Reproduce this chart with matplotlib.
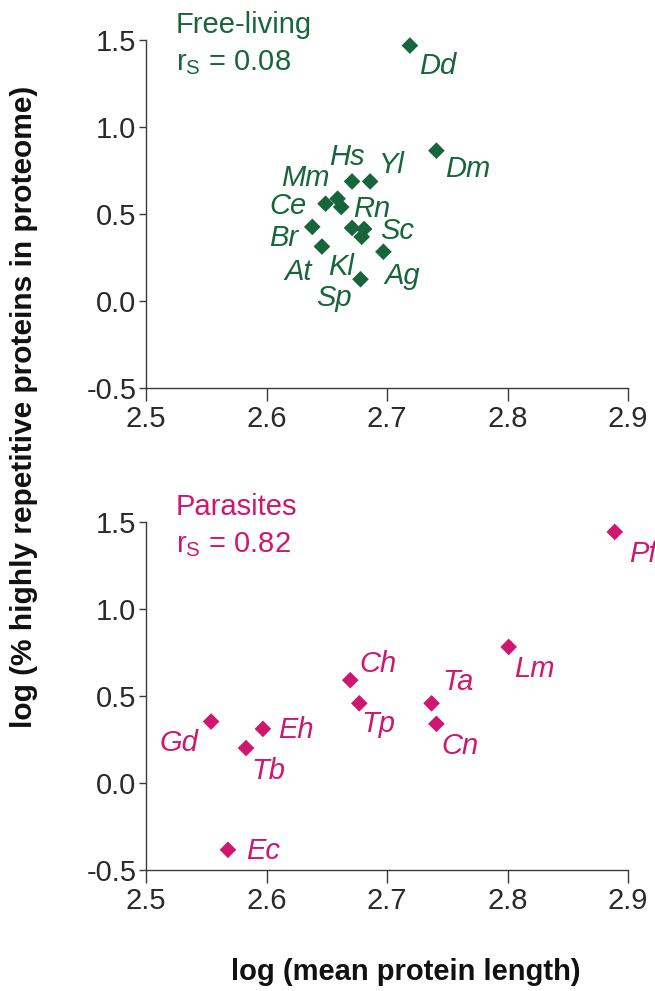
import matplotlib
matplotlib.use("Agg")
import matplotlib.pyplot as plt

plt.rcParams['font.family'] = ['Liberation Sans', 'DejaVu Sans']
plt.rcParams['mathtext.fontset'] = 'custom'
plt.rcParams['mathtext.rm'] = 'Liberation Sans'
plt.rcParams['mathtext.it'] = 'Liberation Sans:italic'

# ---------------- data ----------------
free_names = ["Dd", "Dm", "Hs", "Yl", "Mm", "Ce", "Rn", "Br", "At", "Kl", "Sc", "", "Ag", "Sp"]
free_x = [2.719, 2.741, 2.671, 2.686, 2.659, 2.649, 2.662, 2.638, 2.646, 2.671, 2.681, 2.679, 2.697, 2.678]
free_y = [1.468, 0.864, 0.687, 0.687, 0.588, 0.559, 0.540, 0.426, 0.313, 0.420, 0.414, 0.369, 0.283, 0.125]

par_names = ["Pf", "Lm", "Ch", "Tp", "Ta", "Cn", "Gd", "Eh", "Tb", "Ec"]
par_x = [2.889, 2.801, 2.6695, 2.677, 2.737, 2.741, 2.554, 2.597, 2.583, 2.568]
par_y = [1.443, 0.782, 0.591, 0.458, 0.458, 0.340, 0.353, 0.311, 0.201, -0.384]

xticks = [2.5, 2.6, 2.7, 2.8, 2.9]
yticks = [-0.5, 0.0, 0.5, 1.0, 1.5]
xtick_labels = ["2.5", "2.6", "2.7", "2.8", "2.9"]
ytick_labels = ["-0.5", "0.0", "0.5", "1.0", "1.5"]

# label offsets (pixels) for annotation placement
free_off = [(28, -20), (31, -18), (-5, 24), (22, 16), (-32, 21), (-38, -2), (31, -2),
            (-29, -11), (-24, -25), (-11, -39), (33, -2), (0, 0), (19, -24), (-27, -19)]
par_off = [(28, -22), (26, -22), (28, 16), (19, -21), (26, 21), (24, -22),
           (-32, -21), (33, -1), (22, -23), (35, -1)]

GREEN = '#17663b'
MAGENTA = '#cf176f'
AXC = '#3a3a3a'
FS = 21

W, H = 655, 991
fig = plt.figure(figsize=(W / 100, H / 100), dpi=100)

def panel(bottom_px, top_px, xs, ys, names, offs, color, title, rs):
    left, right = 146, 628
    ax = fig.add_axes([left / W, 1 - bottom_px / H, (right - left) / W, (bottom_px - top_px) / H])
    ax.scatter(xs, ys, marker='D', s=72, color=color, edgecolors='none', zorder=3, clip_on=False)
    for n, x, y, (dx, dy) in zip(names, xs, ys, offs):
        if n:
            ax.annotate(n, (x, y), xytext=(dx * 0.72, dy * 0.72), textcoords='offset points',
                        ha='center', va='center', fontsize=FS, style='italic', color=color,
                        annotation_clip=False)
    ax.set_xlim(2.5, 2.9)
    ax.set_ylim(-0.5, 1.5)
    ax.set_xticks(xticks)
    ax.set_xticklabels(xtick_labels)
    ax.set_yticks(yticks)
    ax.set_yticklabels(ytick_labels)
    for s in ['top', 'right']:
        ax.spines[s].set_visible(False)
    for s in ['left', 'bottom']:
        ax.spines[s].set_color(AXC)
        ax.spines[s].set_linewidth(1.0)
    ax.tick_params(axis='x', direction='out', length=9, width=1.0, color=AXC,
                   labelsize=FS, labelcolor='#2a2a2a', pad=3)
    ax.tick_params(axis='y', direction='out', length=5, width=1.0, color=AXC,
                   labelsize=FS, labelcolor='#2a2a2a', pad=2)
    h = bottom_px - top_px
    ax.text((176 - left) / (right - left), (bottom_px - (top_px - 15)) / h, title, transform=ax.transAxes,
            ha='left', va='center', fontsize=FS, color=color, clip_on=False)
    ax.text((176 - left) / (right - left), (bottom_px - (top_px + 23)) / h, r'r$_{\mathrm{S}}$ = ' + rs,
            transform=ax.transAxes, ha='left', va='center', fontsize=FS, color=color, clip_on=False)
    return ax

panel(388, 40, free_x, free_y, free_names, free_off, GREEN, 'Free-living', '0.08')
panel(870, 522, par_x, par_y, par_names, par_off, MAGENTA, 'Parasites', '0.82')

fig.text(24 / W, 1 - 407 / H, 'log (% highly repetitive proteins in proteome)', rotation=90,
         ha='center', va='center', fontsize=21.5, fontweight='bold', color='#111111')
fig.text(406 / W, 1 - 972 / H, 'log (mean protein length)',
         ha='center', va='center', fontsize=21, fontweight='bold', color='#111111')

fig.savefig('out.png', dpi=100, facecolor='white')
